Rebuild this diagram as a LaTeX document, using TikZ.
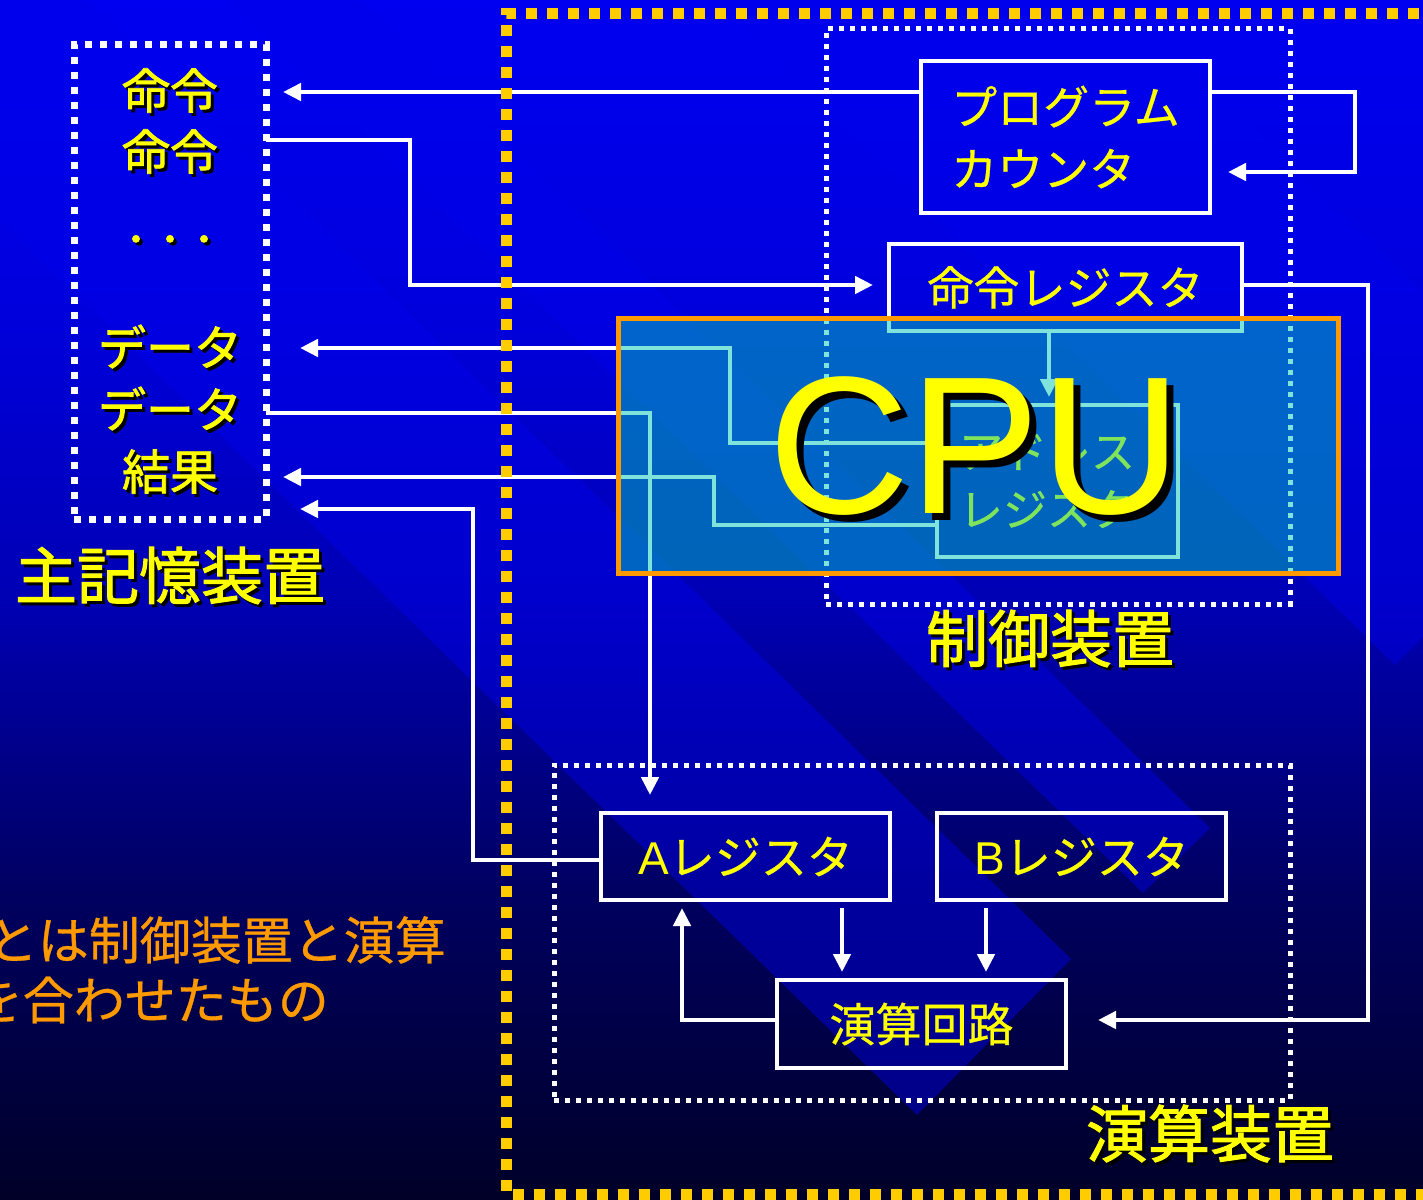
\documentclass[tikz,border=0pt]{standalone}
\usepackage{fontspec}
\setmainfont{Liberation Sans}
\newfontfamily\jp{Noto Sans CJK JP}
\newfontfamily\jpm[FakeBold=0.6]{Noto Sans CJK JP}
\newfontfamily\jpb[FakeBold=1.6]{Noto Sans CJK JP}
\usetikzlibrary{arrows.meta}
\definecolor{bgA}{RGB}{0,0,240}
\definecolor{bgB}{RGB}{0,0,222}
\definecolor{bgC}{RGB}{0,0,180}
\definecolor{bgD}{RGB}{0,0,95}
\definecolor{bgE}{RGB}{0,0,40}
\definecolor{strp}{RGB}{0,0,235}
\definecolor{ylw}{RGB}{255,255,0}
\definecolor{gold}{RGB}{255,204,0}
\definecolor{orng}{RGB}{255,153,0}
\definecolor{ovl}{RGB}{0,200,185}
\pgfdeclareverticalshading{bgshade}{100bp}{color(0bp)=(bgE); color(25bp)=(bgE); color(37.5bp)=(bgD); color(50bp)=(bgC); color(62.5bp)=(bgB); color(75bp)=(bgA); color(100bp)=(bgA)}
\newcommand\shad[2][3pt]{\makebox[0pt][l]{\raisebox{-#1}{\hspace{#1}\textcolor{black}{#2}}}#2}
\begin{document}
\begin{tikzpicture}[x=1pt,y=-1pt,
  wline/.style={draw=white,line width=4.5pt,-{Triangle[length=18pt,width=17pt]}},
  regbox/.style={draw=white,line width=4pt,inner sep=0pt,outer sep=0pt,text=ylw,font=\jpm\fontsize{46}{62}\selectfont},
  memdot/.style={draw=white,line width=7pt,dash pattern=on 7pt off 8pt,inner sep=0pt,outer sep=0pt},
  unitdot/.style={draw=white,line width=5pt,dash pattern=on 5pt off 6pt,inner sep=0pt,outer sep=0pt},
  mtx/.style={text=ylw,inner sep=0pt,font=\jpb\fontsize{48}{48}\selectfont},
  ttl/.style={text=ylw,inner sep=0pt,font=\jpb\fontsize{62}{62}\selectfont},
  stripe/.style={fill=strp,fill opacity=0.45},
]
\useasboundingbox (0,0) rectangle (1423,1199);
\clip (0,0) rectangle (1423,1199);
\shade[shading=bgshade] (0,0) rectangle (1423,1199);
% diagonal template stripes
\fill[stripe] (917,1115) -- (1071,959) -- (-429,-505) -- (-583,-349) -- cycle;
\fill[stripe] (1143,893) -- (1210,828) -- (-290,-636) -- (-357,-571) -- cycle;
\fill[stripe] (1395,665) -- (1600,465) -- (100,-999) -- (-105,-799) -- cycle;

% dotted unit frames
\node[memdot,minimum width=192pt,minimum height=474pt] (mem) at (170,282) {};
\node[unitdot,minimum width=464pt,minimum height=575pt] (ctl) at (1058,316.5) {};
\node[unitdot,minimum width=736pt,minimum height=335pt] (ari) at (922,932.5) {};

% registers
\node[regbox,minimum width=289pt,minimum height=152pt,align=left] (pc) at (1065.5,137) {プログラム\\カウンタ};
\node[regbox,minimum width=353pt,minimum height=87pt] (ir) at (1065.5,287.5) {命令レジスタ};
\node[regbox,minimum width=241pt,minimum height=152pt] (addr) at (1057.5,481) {};
\node[text=ylw,inner sep=0pt,align=left,font=\jpm\fontsize{44}{58}\selectfont] (addrl) at (1047,481) {アドレス\\レジスタ};
\node[regbox,minimum width=289pt,minimum height=87pt] (a) at (745.5,856.5) {{\rmfamily A}レジスタ};
\node[regbox,minimum width=289pt,minimum height=87pt] (b) at (1081.5,856.5) {{\rmfamily B}レジスタ};
\node[regbox,minimum width=289pt,minimum height=88pt] (alu) at (921.5,1024) {演算回路};

% helper coordinates
\coordinate (r92) at (0,92);   \coordinate (r140) at (0,140);
\coordinate (r172) at (0,172); \coordinate (r285) at (0,285);
\coordinate (r348) at (0,348); \coordinate (r413) at (0,413);
\coordinate (r443) at (0,443); \coordinate (r477) at (0,477);
\coordinate (r509) at (0,509); \coordinate (r525) at (0,525);
\coordinate (r860) at (0,860); \coordinate (r1020) at (0,1020);
\coordinate (b1) at (410,140);  \coordinate (b2) at (1355,92);
\coordinate (b3) at (1368,285); \coordinate (b4) at (730,443);
\coordinate (b5) at (650,413);  \coordinate (b6) at (714,525);
\coordinate (b7) at (473,860);  \coordinate (b8) at (682,1020);
\coordinate (c1049) at (1049,0); \coordinate (c842) at (842,0);
\coordinate (c986) at (986,0);

% connectors
\draw[wline,shorten >=17pt] (pc.west |- r92) -- (mem.east |- r92);
\draw[wline,shorten >=16pt] (mem.east |- r140) -- (b1) |- (ir.west |- r285);
\draw[wline,shorten >=18pt] (pc.east |- r92) -- (b2) |- (pc.east |- r172);
\draw[wline,shorten >=32pt] (ir.east |- r285) -- (b3) |- (alu.east |- r1020);
\draw[wline,shorten >=8pt] (ir.south -| c1049) -- (addr.north -| c1049);
\draw[wline,shorten >=34pt] (addr.west |- r443) -- (b4) |- (mem.east |- r348);
\draw[wline,shorten >=18pt] (mem.east |- r413) -- (b5) -- (a.north -| b5);
\draw[wline,shorten >=17pt] (addr.west |- r525) -- (b6) |- (mem.east |- r477);
\draw[wline,shorten >=34pt] (a.west |- r860) -- (b7) |- (mem.east |- r509);
\draw[wline,shorten <=8pt,shorten >=8pt] (a.south -| c842) -- (alu.north -| c842);
\draw[wline,shorten <=8pt,shorten >=8pt] (b.south -| c986) -- (alu.north -| c986);
\draw[wline,shorten >=8pt] (alu.west |- r1020) -- (b8) -- (a.south -| b8);

% CPU yellow frame
\draw[gold,line width=11pt,dash pattern=on 11pt off 10pt] (1440,14) -- (506,14) -- (506,1194) -- (1440,1194);

% memory contents
\node[mtx] (m1) at (170,92) {\shad{命令}};
\node[mtx] (m2) at (170,153) {\shad{命令}};
\node[mtx,font=\jpb\fontsize{34}{34}\selectfont] (m3) at (170,245) {\shad{・・・}};
\node[mtx] (m4) at (170,348) {\shad{データ}};
\node[mtx] (m5) at (170,410) {\shad{データ}};
\node[mtx] (m6) at (170,473) {\shad{結果}};

% unit titles
\node[ttl] (lmem) at (170,577) {\shad{主記憶装置}};
\node[ttl] (lctl) at (1050,640) {\shad{制御装置}};
\node[ttl] (lari) at (1210,1135) {\shad{演算装置}};

% note
\node[anchor=east,inner sep=0pt,text=orng,font=\jpm\fontsize{51}{51}\selectfont] (n1) at (446,940) {とは制御装置と演算};
\node[anchor=east,inner sep=0pt,text=orng,font=\jpm\fontsize{51}{51}\selectfont] (n2) at (329,1000) {を合わせたもの};

% CPU overlay
\node[draw=orng,line width=5pt,fill=ovl,fill opacity=0.5,draw opacity=1,minimum width=720pt,minimum height=255pt,inner sep=0pt] (cpubox) at (978,445.5) {};
\node[text=ylw,inner sep=0pt,font=\fontsize{196}{196}\selectfont] (cpu) at (975,450) {\shad[7pt]{CPU}};
\end{tikzpicture}
\end{document}
